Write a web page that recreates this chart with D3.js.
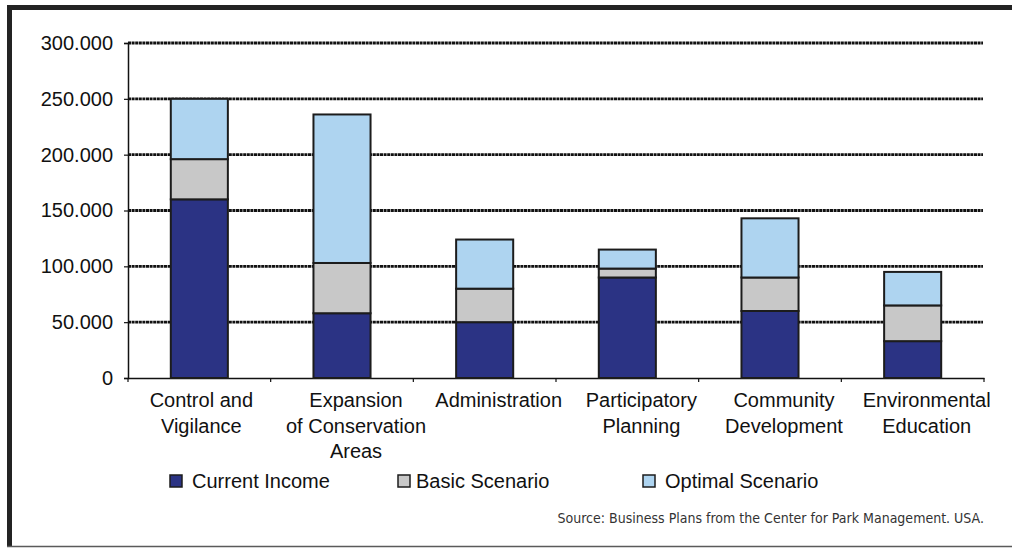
<!DOCTYPE html>
<html>
<head>
<meta charset="utf-8">
<script src="https://cdn.jsdelivr.net/npm/d3@7"></script>
<style>
  html, body { margin: 0; padding: 0; background: #fff; }
  svg { display: block; }
</style>
</head>
<body>
<svg id="chart" width="1012" height="548"></svg>
<script>
// Budget by program area, stacked by funding scenario
const categories = [
  ["Control and", "Vigilance"],
  ["Expansion", "of Conservation", "Areas"],
  ["Administration"],
  ["Participatory", "Planning"],
  ["Community", "Development"],
  ["Environmental", "Education"]
];
const seriesNames = ["Current Income", "Basic Scenario", "Optimal Scenario"];
const currentIncome   = [160000, 58000, 50000, 90000, 60000, 33000];
const basicScenario   = [36000, 45000, 30000, 8000, 30000, 32000];
const optimalScenario = [54000, 133000, 44000, 17000, 53000, 30000];
const yTicks = [0, 50000, 100000, 150000, 200000, 250000, 300000];
const sourceNote = "Source: Business Plans from the Center for Park Management. USA.";

const colors = ["#2b3384", "#c8c8c8", "#aed4f0"];

const svg = d3.select("#chart");
const W = 1012, H = 548;
const plot = { left: 128, right: 984, top: 43, bottom: 378 };

// Frame around the figure
svg.append("rect").attr("x", 7).attr("y", 5).attr("width", W - 7).attr("height", 5).attr("fill", "#232323");
svg.append("rect").attr("x", 7).attr("y", 5).attr("width", 5).attr("height", H - 7).attr("fill", "#232323");
svg.append("line").attr("x1", 7).attr("x2", W).attr("y1", 546.5).attr("y2", 546.5)
  .attr("stroke", "#5a5a5a").attr("stroke-width", 1.5);

const keys = categories.map((c, i) => i);
const rows = keys.map(i => ({
  key: i,
  "Current Income": currentIncome[i],
  "Basic Scenario": basicScenario[i],
  "Optimal Scenario": optimalScenario[i]
}));
const stacked = d3.stack().keys(seriesNames)(rows);

const x = d3.scaleBand().domain(keys).range([plot.left, plot.right]).padding(0);
const y = d3.scaleLinear().domain([0, 300000]).range([plot.bottom, plot.top]);
const barW = x.bandwidth() * 0.4;

const locale = d3.formatLocale({ decimal: ",", thousands: ".", grouping: [3], currency: ["", ""] });
const fmt = locale.format(",");

// Gridlines
svg.append("g").selectAll("line").data(yTicks.filter(d => d > 0)).join("line")
  .attr("x1", plot.left).attr("x2", plot.right - 1)
  .attr("y1", d => y(d)).attr("y2", d => y(d))
  .attr("stroke", "#111").attr("stroke-width", 2.8)
  .attr("stroke-dasharray", "3,0.6");

// Y axis
const yAxis = svg.append("g").attr("transform", `translate(${plot.left},0)`)
  .call(d3.axisLeft(y).tickValues(yTicks).tickFormat(fmt).tickSize(4).tickPadding(11));
yAxis.select(".domain").attr("stroke", "#111").attr("stroke-width", 1.5);
yAxis.selectAll(".tick line").attr("stroke", "#111").attr("stroke-width", 1.2);
yAxis.selectAll(".tick text")
  .attr("font-family", "'Liberation Sans', Arial, sans-serif")
  .attr("font-size", 20).attr("fill", "#111");

// X axis with ticks at category boundaries
const xAxis = svg.append("g").attr("transform", `translate(0,${plot.bottom})`)
  .call(d3.axisBottom(x).tickSize(0).tickFormat(""));
xAxis.select(".domain").attr("stroke", "#111").attr("stroke-width", 1.5);
xAxis.selectAll(".tick").remove();
svg.append("g").selectAll("line").data(keys.map(k => x(k) + x.bandwidth()).concat([plot.left])).join("line")
  .attr("x1", d => d).attr("x2", d => d)
  .attr("y1", plot.bottom).attr("y2", plot.bottom + 4)
  .attr("stroke", "#111").attr("stroke-width", 1.2);

// Stacked bars
svg.append("g").selectAll("g").data(stacked).join("g")
  .attr("fill", (d, i) => colors[i])
  .selectAll("rect").data(d => d).join("rect")
  .attr("x", d => x(d.data.key) + (x.bandwidth() - barW) / 2)
  .attr("y", d => y(d[1]))
  .attr("width", barW)
  .attr("height", d => y(d[0]) - y(d[1]))
  .attr("stroke", "#1c1c1c").attr("stroke-width", 2);

// Category labels
const labels = svg.append("g")
  .attr("font-family", "'Liberation Sans', Arial, sans-serif")
  .attr("font-size", 20).attr("fill", "#111").attr("text-anchor", "middle");
categories.forEach((lines, i) => {
  const cx = x(i) + x.bandwidth() / 2 + (i === 0 ? 2 : 14);
  const t = labels.append("text").attr("x", cx).attr("y", 407);
  lines.forEach((ln, j) => {
    t.append("tspan").attr("x", cx).attr("dy", j === 0 ? 0 : 25.5).text(ln);
  });
});

// Legend
const legendX = [170, 398, 643];
const legend = svg.append("g")
  .attr("font-family", "'Liberation Sans', Arial, sans-serif")
  .attr("font-size", 20).attr("fill", "#111");
seriesNames.forEach((name, i) => {
  legend.append("rect")
    .attr("x", legendX[i]).attr("y", 475).attr("width", 12).attr("height", 12)
    .attr("fill", colors[i]).attr("stroke", "#1c1c1c").attr("stroke-width", 1.5);
  legend.append("text")
    .attr("x", legendX[i] + (i === 1 ? 18 : 22)).attr("y", 488).text(name);
});

// Source note, sized to fit its slot
const src = svg.append("text")
  .attr("x", 984).attr("y", 523).attr("text-anchor", "end")
  .attr("font-family", "'DejaVu Sans Condensed', 'DejaVu Sans', sans-serif")
  .attr("font-size", 16).attr("fill", "#333")
  .text(sourceNote);
const natural = src.node().getComputedTextLength();
src.attr("font-size", (16 * 427 / natural).toFixed(2));
</script>
</body>
</html>
